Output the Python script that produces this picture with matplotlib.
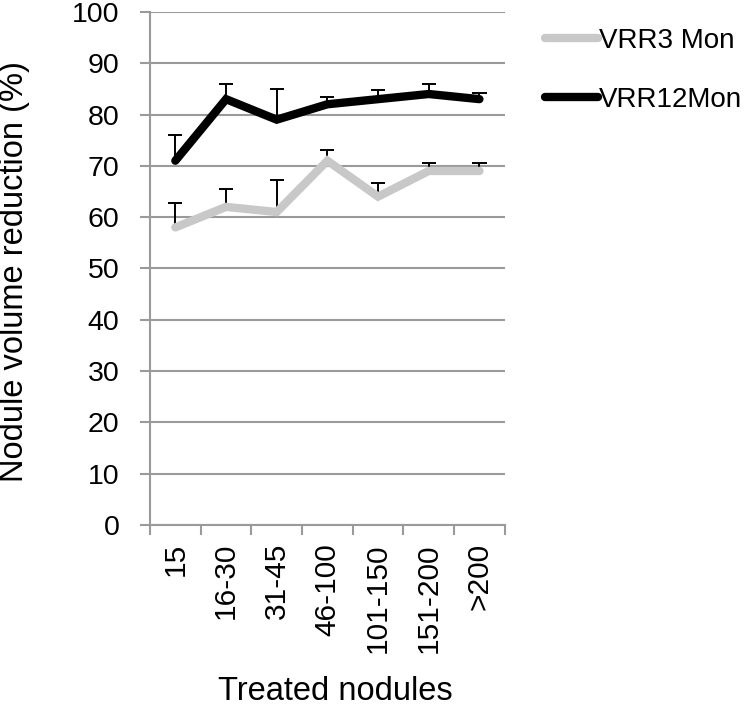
import matplotlib
matplotlib.use("Agg")
import matplotlib.pyplot as plt
import numpy as np

categories = ["15", "16-30", "31-45", "46-100", "101-150", "151-200", ">200"]
vrr3 = [58, 62, 61, 71, 64, 69, 69]
vrr3_err = [4.8, 3.5, 6.2, 2.1, 2.6, 1.5, 1.5]
vrr12 = [71, 83, 79, 82, 83, 84, 83]
vrr12_err = [5.0, 3.0, 6.0, 1.5, 1.7, 2.0, 1.2]

plt.rcParams['font.family'] = ['Liberation Sans', 'DejaVu Sans']

fig = plt.figure(figsize=(7.5, 7.14), dpi=100)
ax = fig.add_axes([0.2, 0.2647, 0.473, 0.7186])

x = np.arange(len(categories))
grey = '#9a9a9a'
cap = 0.14

for vals, errs in [(vrr3, vrr3_err), (vrr12, vrr12_err)]:
    tops = np.array(vals) + np.array(errs)
    ax.vlines(x, vals, tops, color='black', lw=1.4, zorder=2)
    ax.hlines(tops, x - cap, x + cap, color='black', lw=1.4, zorder=2)

ax.plot(x, vrr3, color='#c8c8c8', lw=6, solid_capstyle='round', solid_joinstyle='miter',
        label='VRR3 Mon', zorder=3)
ax.plot(x, vrr12, color='black', lw=6, solid_capstyle='round', solid_joinstyle='miter',
        label='VRR12Mon', zorder=3)

ax.set_xlim(-0.5, len(categories) - 0.5)
ax.set_ylim(0, 100)
ax.set_yticks(np.arange(0, 101, 10))
ax.yaxis.grid(True, color=grey, lw=1.5)
ax.set_axisbelow(True)

ax.set_xticks(np.arange(-0.5, len(categories), 1.0), minor=False)
ax.set_xticklabels([])
ax.set_xticks(x, minor=True)
ax.set_xticklabels(categories, minor=True, rotation=90, fontsize=21.5)
ax.tick_params(axis='x', which='minor', length=0, pad=13)
ax.tick_params(axis='x', which='major', length=7, width=1.5, color=grey, direction='out')
ax.tick_params(axis='y', length=7, width=1.5, color=grey, labelsize=20.5, pad=15)

for s in ['top', 'right']:
    ax.spines[s].set_visible(False)
for s in ['left', 'bottom']:
    ax.spines[s].set_color(grey)
    ax.spines[s].set_linewidth(1.5)

ax.set_ylabel('Nodule volume reduction (%)', fontsize=23.5)
ax.yaxis.set_label_coords(15 / 750, 1 - 272 / 714, transform=fig.transFigure)
ax.set_xlabel('Treated nodules', fontsize=23.5)
ax.xaxis.set_label_coords(335 / 750, 1 - 692 / 714, transform=fig.transFigure)
ax.xaxis.label.set_va('center')
ax.yaxis.label.set_va('center')

leg = fig.legend(loc='upper left', bbox_to_anchor=(0.7267, 0.961), frameon=False, borderpad=0,
                 borderaxespad=0, fontsize=20, handlelength=1.9, handletextpad=0.05,
                 labelspacing=1.2)

fig.savefig('out.png', dpi=100)
